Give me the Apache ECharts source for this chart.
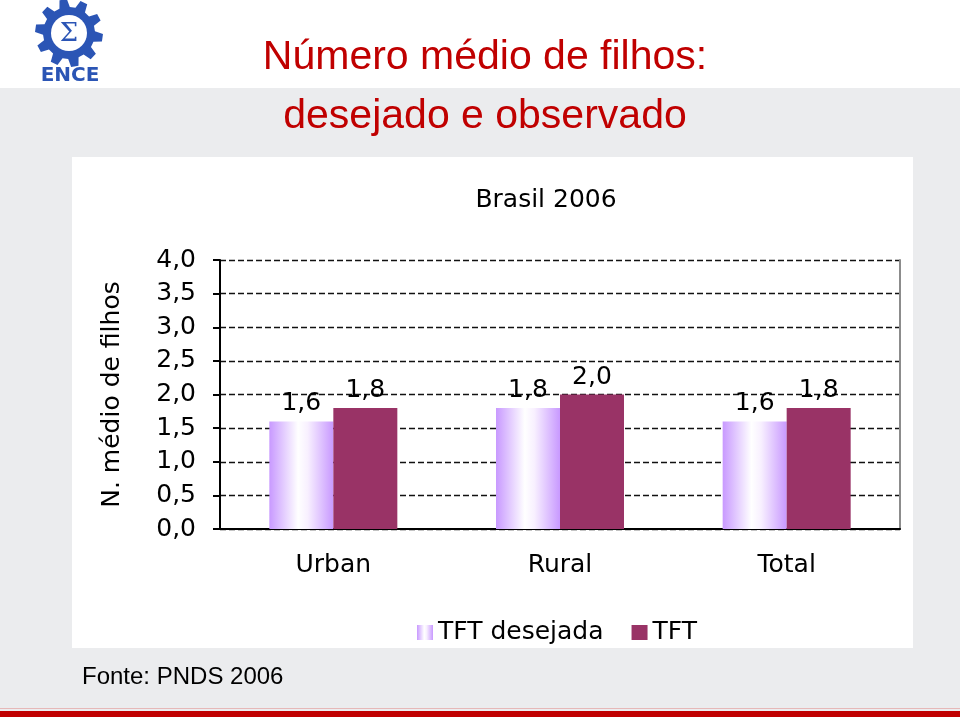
<!DOCTYPE html>
<html>
<head>
<meta charset="utf-8">
<script src="https://cdn.jsdelivr.net/npm/echarts@6/dist/echarts.min.js"></script>
<style>
    html, body { margin: 0; padding: 0; background: #ebecee; }
    #chart { width: 960px; height: 717px; }
</style>
</head>
<body>
<div id="chart"></div>
<script>
const categories = ['Urban', 'Rural', 'Total'];
const seriesNames = ['TFT desejada', 'TFT'];
const desejada = [1.6, 1.8, 1.6];
const observada = [1.8, 2.0, 1.8];
const yTicks = {min: 0, max: 4, interval: 0.5};

const chartFont = 'DejaVu Sans';
const fontSize = 25;
const fmt = v => v.toFixed(1).replace('.', ',');

// gear outline for the logo
function gearPoints(cx, cy, rOut, rIn, teeth) {
    const pts = [];
    const step = Math.PI * 2 / teeth;
    for (let i = 0; i < teeth; i++) {
        const a = i * step;
        pts.push([cx + rIn * Math.cos(a - step * 0.1), cy + rIn * Math.sin(a - step * 0.1)]);
        pts.push([cx + rOut * Math.cos(a + step * 0.05), cy + rOut * Math.sin(a + step * 0.05)]);
        pts.push([cx + rOut * Math.cos(a + step * 0.4), cy + rOut * Math.sin(a + step * 0.4)]);
        pts.push([cx + rIn * Math.cos(a + step * 0.55), cy + rIn * Math.sin(a + step * 0.55)]);
    }
    return pts;
}

const labelStyle = {
    show: true,
    position: 'top',
    distance: 5,
    color: '#000',
    fontSize: fontSize,
    fontFamily: chartFont,
    formatter: p => fmt(p.value),
};

const chart = echarts.init(document.getElementById('chart'));
chart.setOption({
    backgroundColor: '#ebecee',
    animation: false,
    graphic: [
        {type: 'rect', z: -10, shape: {x: 0, y: 0, width: 960, height: 88}, style: {fill: '#ffffff'}},
        {type: 'rect', z: -10, shape: {x: 72, y: 157, width: 841, height: 491}, style: {fill: '#ffffff'}},
        {type: 'rect', z: -10, shape: {x: 0, y: 708, width: 960, height: 1}, style: {fill: '#e6b8b8'}},
        {type: 'rect', z: -10, shape: {x: 0, y: 711, width: 960, height: 6}, style: {fill: '#c00000'}},
        // logo
        {type: 'polygon', shape: {points: gearPoints(69, 33, 34, 26, 10)}, style: {fill: '#2b55b5'}},
        {type: 'circle', shape: {cx: 69, cy: 33, r: 18}, style: {fill: '#ffffff'}},
        {type: 'text', style: {text: 'Σ', x: 69, y: 34, textAlign: 'center', textVerticalAlign: 'middle',
            font: '26px "DejaVu Serif"', fill: '#2b55b5'}},
        {type: 'text', style: {text: 'ENCE', x: 70, y: 76, textAlign: 'center', textVerticalAlign: 'middle',
            font: 'bold 20px "DejaVu Sans"', fill: '#2b55b5'}},
        // titles
        {type: 'text', style: {text: 'Número médio de filhos:', x: 485, y: 58, textAlign: 'center',
            textVerticalAlign: 'middle', font: '41px "Liberation Sans"', fill: '#c00000'}},
        {type: 'text', style: {text: 'desejado e observado', x: 485, y: 117, textAlign: 'center',
            textVerticalAlign: 'middle', font: '41px "Liberation Sans"', fill: '#c00000'}},
        {type: 'text', style: {text: 'Brasil 2006', x: 546, y: 200, textAlign: 'center',
            textVerticalAlign: 'middle', font: fontSize + 'px "DejaVu Sans"', fill: '#000'}},
        {type: 'text', style: {text: 'Fonte: PNDS 2006', x: 82, y: 677, textAlign: 'left',
            textVerticalAlign: 'middle', font: '24px "Liberation Sans"', fill: '#000'}},
    ],
    legend: {
        left: 412,
        top: 615,
        icon: 'rect',
        itemWidth: 16,
        itemHeight: 15,
        itemGap: 28,
        textStyle: {color: '#000', fontSize: fontSize, fontFamily: chartFont},
        data: seriesNames,
    },
    grid: {
        left: 220,
        right: 60,
        top: 260,
        bottom: 188,
    },
    xAxis: {
        type: 'category',
        data: categories,
        axisLine: {lineStyle: {color: '#000', width: 2}},
        axisTick: {length: 7, lineStyle: {color: '#000', width: 2}},
        axisLabel: {color: '#000', fontSize: fontSize, fontFamily: chartFont, margin: 24},
    },
    yAxis: [
        {
            type: 'value',
            min: yTicks.min,
            max: yTicks.max,
            interval: yTicks.interval,
            name: 'N. médio de filhos',
            nameLocation: 'middle',
            nameGap: 95,
            nameRotate: 90,
            nameTextStyle: {color: '#000', fontSize: fontSize, fontFamily: chartFont},
            axisLine: {show: true, lineStyle: {color: '#000', width: 2}},
            axisTick: {show: true, length: 7, lineStyle: {color: '#000', width: 2}},
            axisLabel: {color: '#000', fontSize: fontSize, fontFamily: chartFont, margin: 24, formatter: fmt},
            splitLine: {lineStyle: {color: '#111', width: 1.3, type: [6, 3]}},
        },
        {
            type: 'value',
            position: 'right',
            min: yTicks.min,
            max: yTicks.max,
            interval: yTicks.interval,
            axisLine: {show: true, lineStyle: {color: '#8c8c8c', width: 2}},
            axisTick: {show: false},
            axisLabel: {show: false},
            splitLine: {show: false},
        },
    ],
    series: [
        {
            name: seriesNames[0],
            type: 'bar',
            barWidth: 64,
            barGap: '0%',
            data: desejada,
            itemStyle: {
                color: new echarts.graphic.LinearGradient(0, 0, 1, 0, [
                    {offset: 0, color: '#c899ff'},
                    {offset: 0.45, color: '#ffffff'},
                    {offset: 0.6, color: '#f8f0ff'},
                    {offset: 1, color: '#c899ff'},
                ]),
            },
            label: labelStyle,
        },
        {
            name: seriesNames[1],
            type: 'bar',
            barWidth: 64,
            data: observada,
            itemStyle: {color: '#993366'},
            label: labelStyle,
        },
    ],
});
</script>
</body>
</html>
